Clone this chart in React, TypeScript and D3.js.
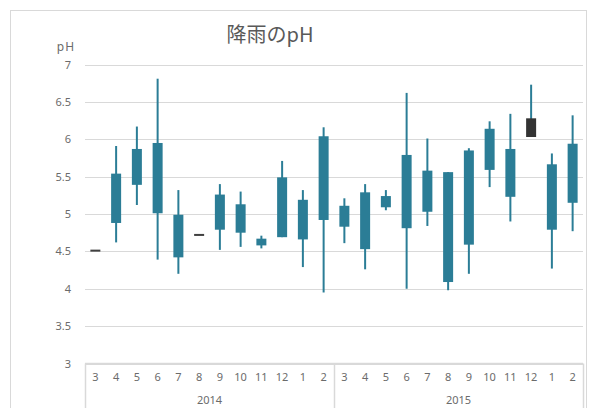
import React from "react";
import * as d3 from "d3";

const months = ["3","4","5","6","7","8","9","10","11","12","1","2","3","4","5","6","7","8","9","10","11","12","1","2"];
const years = ["2014", "2015"];
const openV = [4.51,4.88,5.39,5.01,4.42,4.72,4.79,4.75,4.58,4.69,4.66,4.92,4.83,4.53,5.09,4.81,5.03,4.09,4.59,5.59,5.23,6.28,4.79,5.15];
const closeV = [4.51,5.54,5.87,5.95,4.99,4.72,5.26,5.13,4.67,5.49,5.19,6.04,5.11,5.29,5.24,5.79,5.58,5.56,5.85,6.14,5.87,6.03,5.665,5.94];
const highV = [4.51,5.91,6.17,6.81,5.32,4.72,5.40,5.30,4.71,5.71,5.32,6.16,5.21,5.40,5.32,6.62,6.01,5.56,5.88,6.24,6.34,6.73,5.81,6.32];
const lowV = [4.51,4.62,5.12,4.39,4.20,4.72,4.52,4.56,4.54,4.69,4.29,3.95,4.61,4.26,5.05,4.00,4.84,3.98,4.20,5.36,4.90,6.03,4.27,4.77];
const yTicks = [3, 3.5, 4, 4.5, 5, 5.5, 6, 6.5, 7];

const W = 591, H = 408;
const L = 85, R = 583, T = 64.5, B = 363.5;
const UP = "#2b7d96";
const DOWN = "#333333";
const TXT = "#6b6b6b";
const GRID = "#d9d9d9";
const FONT = "'Noto Sans', 'Noto Sans CJK JP', sans-serif";

export default function App() {
  const x = d3.scaleBand<number>().domain(months.map((_, i) => i)).range([L, R]).padding(0);
  const y = d3.scaleLinear().domain([3, 7]).range([B, T]);
  const bw = 10;
  const yearBand = d3.scaleBand<string>().domain(years).range([L, R]);

  return (
    <svg width={W} height={H} style={{ position: "absolute", left: 0, top: 0, background: "#fff" }} fontFamily={FONT}>
      <rect x={10.5} y={10.5} width={576} height={420} fill="#fff" stroke={GRID} />
      <text x={270} y={42} textAnchor="middle" fontSize={20} fill="#595959" fontFamily="'Noto Sans CJK JP', sans-serif">降雨のpH</text>
      <text x={66} y={51} textAnchor="middle" fontSize={12} fill={TXT} letterSpacing={1}>pH</text>
      {yTicks.map(t => (
        <g key={t}>
          <line x1={L} x2={R} y1={Math.round(y(t)) + 0.5} y2={Math.round(y(t)) + 0.5} stroke={GRID} strokeWidth={1} />
          <text x={71} y={y(t) + 4} textAnchor="end" fontSize={11} fill={TXT}>{t}</text>
        </g>
      ))}
      {/* category axis box */}
      {[L, L + (R - L) / 2, R].map((vx, i) => (
        <line key={i} x1={Math.round(vx) + 0.5} x2={Math.round(vx) + 0.5} y1={B} y2={H} stroke={GRID} strokeWidth={1.5} />
      ))}
      <line x1={L} x2={R} y1={B} y2={B} stroke={GRID} strokeWidth={1.5} />
      {months.map((m, i) => (
        <text key={i} x={(x(i) as number) + x.bandwidth() / 2} y={381} textAnchor="middle" fontSize={11} fill={TXT}>{m}</text>
      ))}
      {years.map(yr => (
        <text key={yr} x={(yearBand(yr) as number) + yearBand.bandwidth() / 2} y={404} textAnchor="middle" fontSize={11} fill={TXT}>{yr}</text>
      ))}
      {/* candles */}
      {months.map((_, i) => {
        const cx = (x(i) as number) + x.bandwidth() / 2;
        const o = openV[i], c = closeV[i], h = highV[i], l = lowV[i];
        const up = c >= o;
        const col = up ? UP : DOWN;
        const top = y(Math.max(o, c));
        const bot = y(Math.min(o, c));
        if (Math.abs(o - c) < 0.001) {
          return (
            <g key={i}>
              <line x1={cx} x2={cx} y1={y(h)} y2={y(l)} stroke={UP} strokeWidth={2} />
              <rect x={cx - bw / 2} y={top - 1} width={bw} height={2} fill="#404040" />
            </g>
          );
        }
        return (
          <g key={i}>
            <line x1={cx} x2={cx} y1={y(h)} y2={y(l)} stroke={UP} strokeWidth={2} />
            <rect x={cx - bw / 2} y={top} width={bw} height={bot - top} fill={col} />
          </g>
        );
      })}
    </svg>
  );
}
